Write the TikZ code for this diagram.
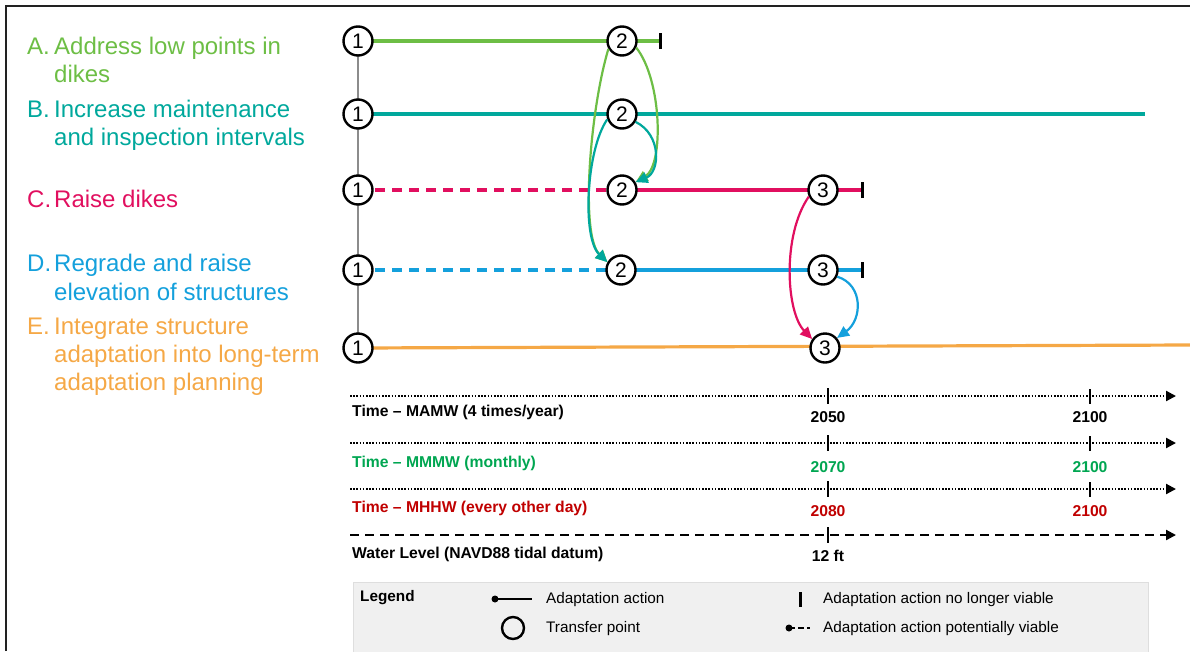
\documentclass[tikz,border=0pt]{standalone}
\usepackage{fontspec}
\setmainfont{Liberation Sans}
\usetikzlibrary{arrows.meta}
\definecolor{cA}{RGB}{109,190,69}
\definecolor{cB}{RGB}{0,168,156}
\definecolor{cC}{RGB}{225,15,95}
\definecolor{cD}{RGB}{20,160,220}
\definecolor{cE}{RGB}{245,168,70}
\definecolor{cGray}{RGB}{140,140,140}
\definecolor{cG}{RGB}{0,166,81}
\definecolor{cR}{RGB}{192,0,0}
\definecolor{legfill}{RGB}{240,240,240}
\definecolor{legdraw}{RGB}{222,222,222}
\definecolor{frame}{RGB}{34,34,34}
\tikzset{
  tp/.style={circle, draw=black, line width=2.4pt, fill=white, minimum size=29pt, inner sep=0pt, font=\fontsize{21}{21}\selectfont},
  act/.style={line width=3.2pt},
  pot/.style={line width=3.2pt, dash pattern=on 10pt off 7pt},
  endbar/.style={line width=3pt, draw=black},
  xfer/.style={line width=2.2pt, -{Triangle[length=12pt,width=11pt]}},
  biglab/.style={anchor=base west, inner sep=0pt, font=\fontsize{24}{28.5}\selectfont},
  tlab/.style={anchor=base west, inner sep=0pt, font=\bfseries\fontsize{15.7}{15.7}\selectfont},
  yr/.style={anchor=base, inner sep=0pt, font=\bfseries\fontsize{15.7}{15.7}\selectfont},
  axis/.style={line width=2.2pt, -{Triangle[length=10pt,width=10pt]}},
  dotaxis/.style={axis, dash pattern=on 1.6pt off 1.6pt},
  dashaxis/.style={axis, dash pattern=on 9pt off 6pt},
  tick/.style={line width=2.8pt},
  leglab/.style={anchor=base west, inner sep=0pt, font=\fontsize{15.3}{15.3}\selectfont},
}
\begin{document}
\begin{tikzpicture}[x=1pt,y=-1pt]
\useasboundingbox (0,0) rectangle (1190,651);
% frame
\draw[frame, line width=2pt] (6,651) -- (6,6) -- (1190,6);

% left labels
\node[biglab, text=cA] (la) at (27,54) {A.};
\node[biglab, text=cA] (la1) at (54,54) {Address low points in};
\node[biglab, text=cA] (la2) at (54,82) {dikes};
\node[biglab, text=cB] (lb) at (27,117) {B.};
\node[biglab, text=cB] (lb1) at (54,117) {Increase maintenance};
\node[biglab, text=cB] (lb2) at (54,145) {and inspection intervals};
\node[biglab, text=cC] (lc) at (27,207) {C.};
\node[biglab, text=cC] (lc1) at (54,207) {Raise dikes};
\node[biglab, text=cD] (ld) at (27,271) {D.};
\node[biglab, text=cD] (ld1) at (54,271) {Regrade and raise};
\node[biglab, text=cD] (ld2) at (54,300) {elevation of structures};
\node[biglab, text=cE] (le) at (27,334) {E.};
\node[biglab, text=cE] (le1) at (54,334) {Integrate structure};
\node[biglab, text=cE] (le2) at (54,362) {adaptation into long-term};
\node[biglab, text=cE] (le3) at (54,390) {adaptation planning};

% transfer point positions
\coordinate (pa1) at (358,41);
\coordinate (pa2) at (622,41);
\coordinate (pb1) at (358,114);
\coordinate (pb2) at (622,114);
\coordinate (pc1) at (358,190);
\coordinate (pc2) at (622,190);
\coordinate (pc3) at (823,190);
\coordinate (pd1) at (358,270);
\coordinate (pd2) at (621,270);
\coordinate (pd3) at (823,270);
\coordinate (pe1) at (358,348);
\coordinate (pe3) at (825,348);
\coordinate (barA) at (660,41);
\coordinate (barC) at (862,190);
\coordinate (barD) at (862,270);
\coordinate (endB) at (1145,114);
\coordinate (endE) at (1190,345);

% gray spine
\draw[cGray, line width=2pt] (pa1) -- (pe1);

% horizontal actions
\draw[act, cA] (pa1) -- (pa2) -- (barA);
\draw[act, cB] (pb1) -- (pb2) -- (endB);
\draw[pot, cC] (pc1) -- (pc2);
\draw[act, cC] (pc2) -- (pc3) -- (barC);
\draw[pot, cD] (pd1) -- (pd2);
\draw[act, cD] (pd2) -- (pd3) -- (barD);
\draw[act, cE] (pe1) -- (endE);

% end bars
\draw[endbar] ([yshift=-8pt]barA) -- ([yshift=8pt]barA);
\draw[endbar] ([yshift=-8pt]barC) -- ([yshift=8pt]barC);
\draw[endbar] ([yshift=-8pt]barD) -- ([yshift=8pt]barD);

% circles
\node[tp] (a1) at (pa1) {1};
\node[tp] (a2) at (pa2) {2};
\node[tp] (b1) at (pb1) {1};
\node[tp] (b2) at (pb2) {2};
\node[tp] (c1) at (pc1) {1};
\node[tp] (c2) at (pc2) {2};
\node[tp] (c3) at (pc3) {3};
\node[tp] (d1) at (pd1) {1};
\node[tp] (d2) at (pd2) {2};
\node[tp] (d3) at (pd3) {3};
\node[tp] (e1) at (pe1) {1};
\node[tp] (e3) at (pe3) {3};

% transfers
\draw[xfer, cA] (a2.210) .. controls (590,110) and (580,235) .. (d2.150);
\draw[xfer, cB] (b2.200) .. controls (586,150) and (582,238) .. (d2.150);
\draw[xfer, cA] (a2.-25) .. controls (662,80) and (664,165) .. (c2.30);
\draw[xfer, cB] (b2.-30) .. controls (662,135) and (660,172) .. (c2.30);
\draw[xfer, cC] (c3.205) .. controls (782,235) and (786,312) .. (e3.145);
\draw[xfer, cD] (d3.-25) .. controls (864,285) and (862,320) .. (e3.40);

% timelines
\coordinate (t1s) at (350,396); \coordinate (t1e) at (1176,396);
\coordinate (t2s) at (350,443); \coordinate (t2e) at (1176,443);
\coordinate (t3s) at (350,489); \coordinate (t3e) at (1176,489);
\coordinate (t4s) at (350,535); \coordinate (t4e) at (1176,535);
\draw[dotaxis] (t1s) -- (t1e);
\draw[dotaxis] (t2s) -- (t2e);
\draw[dotaxis] (t3s) -- (t3e);
\draw[dashaxis] (t4s) -- (t4e);
\foreach \y in {396,443,489}{
  \draw[tick] (828,\y-8) -- (828,\y+8);
  \draw[tick] (1090,\y-7) -- (1090,\y+8);
}
\draw[tick] (828,535-8) -- (828,535+8);

\node[tlab] (l1) at (352,416) {Time – MAMW (4 times/year)};
\node[yr] (y1a) at (828,422) {2050};
\node[yr] (y1b) at (1090,422) {2100};
\node[tlab, text=cG] (l2) at (352,467) {Time – MMMW (monthly)};
\node[yr, text=cG] (y2a) at (828,472) {2070};
\node[yr, text=cG] (y2b) at (1090,472) {2100};
\node[tlab, text=cR] (l3) at (352,512) {Time – MHHW (every other day)};
\node[yr, text=cR] (y3a) at (828,516) {2080};
\node[yr, text=cR] (y3b) at (1090,516) {2100};
\node[tlab] (l4) at (352,558) {Water Level (NAVD88 tidal datum)};
\node[yr] (y4a) at (828,561) {12 ft};

% legend
\draw[fill=legfill, draw=legdraw, line width=1pt] (353,582) rectangle (1148,660);
\node[leglab, font=\bfseries\fontsize{15.3}{15.3}\selectfont] (lg) at (360,601) {Legend};
\coordinate (s1a) at (495,599); \coordinate (s1b) at (532,599);
\fill (s1a) circle (3.5pt);
\draw[line width=2.5pt] (s1a) -- (s1b);
\node[leglab] (g1) at (546,603) {Adaptation action};
\node[circle, draw=black, line width=2.4pt, minimum size=22pt, inner sep=0pt] (g2s) at (513,628) {};
\node[leglab] (g2) at (546,632) {Transfer point};
\draw[line width=3pt] (800,592) -- (800,607);
\node[leglab] (g3) at (823,603) {Adaptation action no longer viable};
\coordinate (s4a) at (789,628); \coordinate (s4b) at (810,628);
\fill (s4a) circle (3.5pt);
\draw[line width=2.5pt, dash pattern=on 6pt off 3pt] (s4a) -- (s4b);
\node[leglab] (g4) at (823,632) {Adaptation action potentially viable};
\end{tikzpicture}
\end{document}
